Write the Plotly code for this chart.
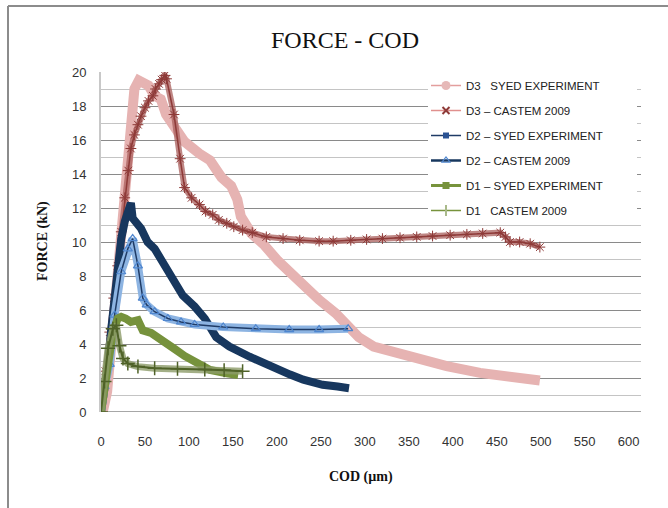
import plotly.graph_objects as go

# ---------------- data ----------------
D3_SYED_X = [2, 4, 7, 13, 21, 27, 32, 38, 43, 49, 54, 61, 68, 74, 84, 95, 112, 124, 137, 148, 155, 159, 171, 186, 201, 216, 230, 248, 267, 281, 293, 310, 331, 355, 370, 393, 431, 468, 499]
D3_SYED_Y = [0, 0.3, 1.2, 4.7, 9.6, 13.5, 16.9, 19.0, 19.5, 19.4, 19.2, 18.6, 18.4, 17.5, 16.7, 15.9, 15.2, 14.8, 13.8, 13.3, 12.5, 11.5, 10.5, 9.8, 8.9, 8.15, 7.4, 6.6, 5.8, 5.1, 4.4, 3.85, 3.55, 3.25, 3.05, 2.7, 2.3, 2.0, 1.85]

D3_CAST_X = [0, 5, 10, 14.5, 19, 23, 27, 31, 34, 38, 42, 45.5, 50, 54, 59, 62, 66, 69, 72.5, 74.5, 83, 90, 95, 103, 112, 119, 127, 134, 143, 151, 161, 172, 188, 207, 226, 248, 264, 284, 302, 320, 340, 359, 377, 397, 416, 434, 454, 460, 465, 476, 488, 499]
D3_CAST_Y = [0, 2.4, 4.7, 6.7, 8.6, 10.6, 12.6, 14.2, 15.5, 16.3, 16.9, 17.4, 17.9, 18.3, 18.6, 19.0, 19.3, 19.55, 19.8, 19.6, 17.5, 14.9, 13.2, 12.6, 12.2, 11.8, 11.6, 11.3, 11.1, 10.9, 10.7, 10.55, 10.3, 10.2, 10.1, 10.05, 10.05, 10.1, 10.15, 10.2, 10.25, 10.3, 10.35, 10.4, 10.45, 10.5, 10.55, 10.3, 10.0, 10.0, 9.9, 9.7]

D2_SYED_X = [0, 3, 8, 11.5, 15.5, 19, 23, 27, 30.5, 34, 36, 40, 45.5, 53, 61, 68, 76, 84, 93, 106.5, 118, 131, 146, 169, 192, 215, 230, 252, 269, 282]
D2_SYED_Y = [0, 1.0, 2.8, 4.8, 6.7, 8.5, 10.2, 11.2, 12.0, 12.3, 11.4, 11.2, 10.8, 10.0, 9.6, 9.0, 8.3, 7.5, 6.85, 6.2, 5.5, 4.4, 3.85, 3.25, 2.66, 2.2, 1.9, 1.6, 1.5, 1.4]

D2_CAST_X = [0, 4, 10, 15.5, 23, 30.5, 36, 42, 47.5, 52, 61, 76, 91, 106.5, 139, 176, 214, 248, 281]
D2_CAST_Y = [0, 1.5, 2.8, 5.7, 8.25, 9.6, 10.2, 8.6, 6.7, 6.3, 5.9, 5.5, 5.3, 5.15, 5.0, 4.9, 4.85, 4.85, 4.9]

D1_SYED_X = [0, 3, 8, 13.5, 19, 23, 28, 34, 42, 47.5, 57, 68, 84, 95, 106.5, 118, 124, 143, 156]
D1_SYED_Y = [0, 1.2, 2.8, 4.7, 5.5, 5.6, 5.5, 5.3, 5.4, 4.8, 4.65, 4.3, 3.7, 3.3, 3.0, 2.7, 2.47, 2.28, 2.18]

D1_CAST_X = [0, 4, 8, 13.5, 17.5, 21, 25, 30.5, 42, 61, 87, 118, 140, 161]
D1_CAST_Y = [0, 1.8, 3.75, 4.9, 5.1, 3.9, 3.15, 2.85, 2.67, 2.57, 2.55, 2.5, 2.45, 2.4]

SERIES_NAMES = ["D3   SYED EXPERIMENT", "D3 \u2013 CASTEM 2009", "D2 \u2013 SYED EXPERIMENT",
                "D2 \u2013 CASTEM 2009", "D1 \u2013 SYED EXPERIMENT", "D1   CASTEM 2009"]

X_TICKS = list(range(0, 601, 50))
Y_TICKS = list(range(0, 21, 2))
X_MAX = 614

# ---------------- figure ----------------
W, H = 668, 508
ML, MR, MT, MB = 101, 27, 72, 96
PW, PH = W - ML - MR, H - MT - MB

def px_x(p):
    return (p - ML) / PW

def px_y(p):
    return (H - MB - p) / PH

fig = go.Figure()

# plotted series (no legend)
fig.add_trace(go.Scatter(x=D3_SYED_X, y=D3_SYED_Y, mode="lines", showlegend=False,
                         line=dict(color="#E6B3B2", width=10), hoverinfo="skip"))
fig.add_trace(go.Scatter(x=D3_CAST_X, y=D3_CAST_Y, mode="lines", showlegend=False,
                         line=dict(color="rgba(170,95,92,0.75)", width=6), hoverinfo="skip"))
fig.add_trace(go.Scatter(x=D3_CAST_X, y=D3_CAST_Y, mode="lines+markers", showlegend=False,
                         line=dict(color="#8E3A38", width=1.5),
                         marker=dict(symbol="asterisk-open", size=9, color="#8E3A38",
                                     line=dict(color="#9A4644", width=1)), hoverinfo="skip"))
fig.add_trace(go.Scatter(x=D2_SYED_X, y=D2_SYED_Y, mode="lines", showlegend=False,
                         line=dict(color="#17375E", width=8), hoverinfo="skip"))
fig.add_trace(go.Scatter(x=D2_CAST_X, y=D2_CAST_Y, mode="lines", showlegend=False,
                         line=dict(color="#8DB4E2", width=8), hoverinfo="skip"))
fig.add_trace(go.Scatter(x=D2_CAST_X, y=D2_CAST_Y, mode="lines+markers", showlegend=False,
                         line=dict(color="#1F3B66", width=1.5),
                         marker=dict(symbol="triangle-up-open", size=8, color="#4F86CF",
                                     line=dict(width=1.2)), hoverinfo="skip"))
fig.add_trace(go.Scatter(x=D1_SYED_X, y=D1_SYED_Y, mode="lines", showlegend=False,
                         line=dict(color="#76923C", width=8), hoverinfo="skip"))
fig.add_trace(go.Scatter(x=D1_CAST_X, y=D1_CAST_Y, mode="lines", showlegend=False,
                         line=dict(color="rgba(140,155,105,0.8)", width=7), hoverinfo="skip"))
fig.add_trace(go.Scatter(x=D1_CAST_X, y=D1_CAST_Y, mode="lines+markers", showlegend=False,
                         line=dict(color="#4F6228", width=2),
                         marker=dict(symbol="cross-thin-open", size=10, color="#4F6228",
                                     line=dict(color="#4F6228", width=1.5)), hoverinfo="skip"))

# legend entries
leg_styles = [
    dict(line=dict(color="#E39E9D", width=1.5), marker=dict(symbol="circle", size=9, color="#E6B9B8")),
    dict(line=dict(color="#E0908E", width=1.5), marker=dict(symbol="x-thin-open", size=7, color="#8E3A38", line=dict(width=2, color="#8E3A38"))),
    dict(line=dict(color="#1F3B66", width=1.5), marker=dict(symbol="square", size=6, color="#2A5293")),
    dict(line=dict(color="#17375E", width=2.5), marker=dict(symbol="triangle-up-open", size=7, color="#4F86CF", line=dict(width=1.2))),
    dict(line=dict(color="#77933C", width=3), marker=dict(symbol="square", size=7, color="#77933C")),
    dict(line=dict(color="#77933C", width=1.5), marker=dict(symbol="line-ns-open", size=8, color="#A9B98A", line=dict(width=2, color="#A9B98A"))),
]
for i, (name, st) in enumerate(zip(SERIES_NAMES, leg_styles)):
    fig.add_trace(go.Scatter(x=[None], y=[None], mode="lines+markers", name=name,
                             legendgroup="g%d" % i, **st))

GRID_MAJOR = "#8A8A8A"
GRID_MINOR = "#C4C4C4"
SERIF = "Liberation Serif, DejaVu Serif, serif"
SANS = "Liberation Sans Narrow, Liberation Sans, sans-serif"

fig.update_layout(
    width=W, height=H,
    margin=dict(l=ML, r=MR, t=MT, b=MB),
    paper_bgcolor="white", plot_bgcolor="white",
    title=dict(text="FORCE - COD", x=345 / W, xanchor="center", y=1 - 40 / H, yanchor="middle",
               font=dict(family=SERIF, size=24, color="#111111")),
    xaxis=dict(range=[0, X_MAX], tickvals=X_TICKS, ticktext=[str(v) for v in X_TICKS],
               showgrid=False, zeroline=False, showline=False,
               ticks="", ticklabelstandoff=20,
               tickfont=dict(family=SANS, size=13, color="#333333")),
    yaxis=dict(range=[0, 20], tickvals=Y_TICKS, ticktext=[str(v) for v in Y_TICKS],
               showgrid=True, gridcolor=GRID_MAJOR, gridwidth=1,
               minor=dict(dtick=1, showgrid=True, gridcolor=GRID_MINOR, gridwidth=1),
               zeroline=False, showline=True, linecolor="#C8C8C8", linewidth=2,
               ticks="", ticklabelstandoff=10,
               tickfont=dict(family=SANS, size=13, color="#333333")),
    legend=dict(x=px_x(426), y=px_y(71), xanchor="left", yanchor="top",
                bgcolor="rgba(0,0,0,0)", borderwidth=0, tracegroupgap=6, itemwidth=30,
                font=dict(family=SANS, size=11.5, color="#222222")),
    annotations=[
        dict(text="<b>COD (\u00b5m)</b>", xref="paper", yref="paper", x=px_x(361), y=px_y(477),
             xanchor="center", yanchor="middle", showarrow=False,
             font=dict(family=SERIF, size=14, color="#111111")),
        dict(text="<b>FORCE (kN)</b>", xref="paper", yref="paper", x=px_x(43), y=px_y(241),
             xanchor="center", yanchor="middle", showarrow=False, textangle=-90,
             font=dict(family=SERIF, size=14, color="#111111")),
    ],
    shapes=[
        # white legend panel hiding gridlines
        dict(type="rect", xref="paper", yref="paper", x0=px_x(428), x1=px_x(637), y0=px_y(222), y1=px_y(75),
             fillcolor="white", line=dict(width=0), layer="above"),
        # outer chart border (top and left)
        dict(type="line", xref="paper", yref="paper", x0=px_x(8), x1=px_x(700), y0=px_y(6), y1=px_y(6),
             line=dict(color="#8C8C8C", width=2)),
        dict(type="line", xref="paper", yref="paper", x0=px_x(8), x1=px_x(8), y0=px_y(6), y1=px_y(560),
             line=dict(color="#8C8C8C", width=2)),
        # x axis baseline
        dict(type="line", xref="paper", yref="y", x0=0, x1=1, y0=0, y1=0,
             line=dict(color="#8A8A8A", width=1.5), layer="below"),
    ],
)

fig.write_html("out.html")
